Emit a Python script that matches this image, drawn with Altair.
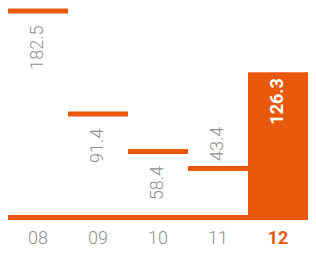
import altair as alt
import pandas as pd

years = ["08", "09", "10", "11", "12"]
values = [182.5, 91.4, 58.4, 43.4, 126.3]

ORANGE = "#E8590C"
GRAY = "#8f8f8f"
FONT = "Roboto"

df = pd.DataFrame({"year": years, "value": values})
df["label"] = [f"{v:.1f}" for v in values]

x = alt.X("year:N", sort=years,
          scale=alt.Scale(paddingInner=0, paddingOuter=0),
          axis=alt.Axis(title=None, labelAngle=0, domain=False, ticks=False, tickSize=0,
                        grid=False, labelFontSize=18, labelFont=FONT, labelPadding=14,
                        labelColor={"condition": {"test": "datum.value == '12'", "value": ORANGE}, "value": GRAY},
                        labelFontWeight={"condition": {"test": "datum.value == '12'", "value": "bold"}, "value": 300}))
yscale = alt.Scale(domain=[0, 183], nice=False, zero=True)

base = alt.Chart(df)

lines = base.transform_filter("datum.year != '12'").mark_bar(
    color=ORANGE, y2Offset=5, width={"band": 1}
).encode(x=x, y=alt.Y("value:Q", scale=yscale, axis=None), y2="value:Q")

last = base.transform_filter("datum.year == '12'").mark_bar(
    color=ORANGE, y2Offset=5, width={"band": 1}
).encode(x=x, y=alt.Y("value:Q", scale=yscale, axis=None), y2=alt.datum(0))

baseline = base.mark_bar(color=ORANGE, y2Offset=5, width={"band": 1}).encode(
    x=x, y=alt.Y(datum=0, scale=yscale, axis=None), y2=alt.datum(0))

below = base.transform_filter("datum.year == '08' || datum.year == '09' || datum.year == '10'").mark_text(
    angle=270, align="right", baseline="middle", yOffset=17, fontSize=18, font=FONT,
    fontWeight=300, color=GRAY
).encode(x=x, y=alt.Y("value:Q", scale=yscale, axis=None), text="label:N")

above = base.transform_filter("datum.year == '11'").mark_text(
    angle=270, align="left", baseline="middle", yOffset=-5, fontSize=18, font=FONT,
    fontWeight=300, color=GRAY
).encode(x=x, y=alt.Y("value:Q", scale=yscale, axis=None), text="label:N")

inside = base.transform_filter("datum.year == '12'").mark_text(
    angle=270, align="right", baseline="middle", yOffset=6, fontSize=18, font=FONT,
    fontWeight="bold", color="white"
).encode(x=x, y=alt.Y("value:Q", scale=yscale, axis=None), text="label:N")

chart = alt.layer(baseline, lines, last, below, above, inside).properties(
    width=300, height=207, padding={"left": 0, "top": 0, "right": 0, "bottom": 0}
).configure_view(stroke=None)

chart.save("out.html", embed_options={"renderer": "svg", "actions": False})
